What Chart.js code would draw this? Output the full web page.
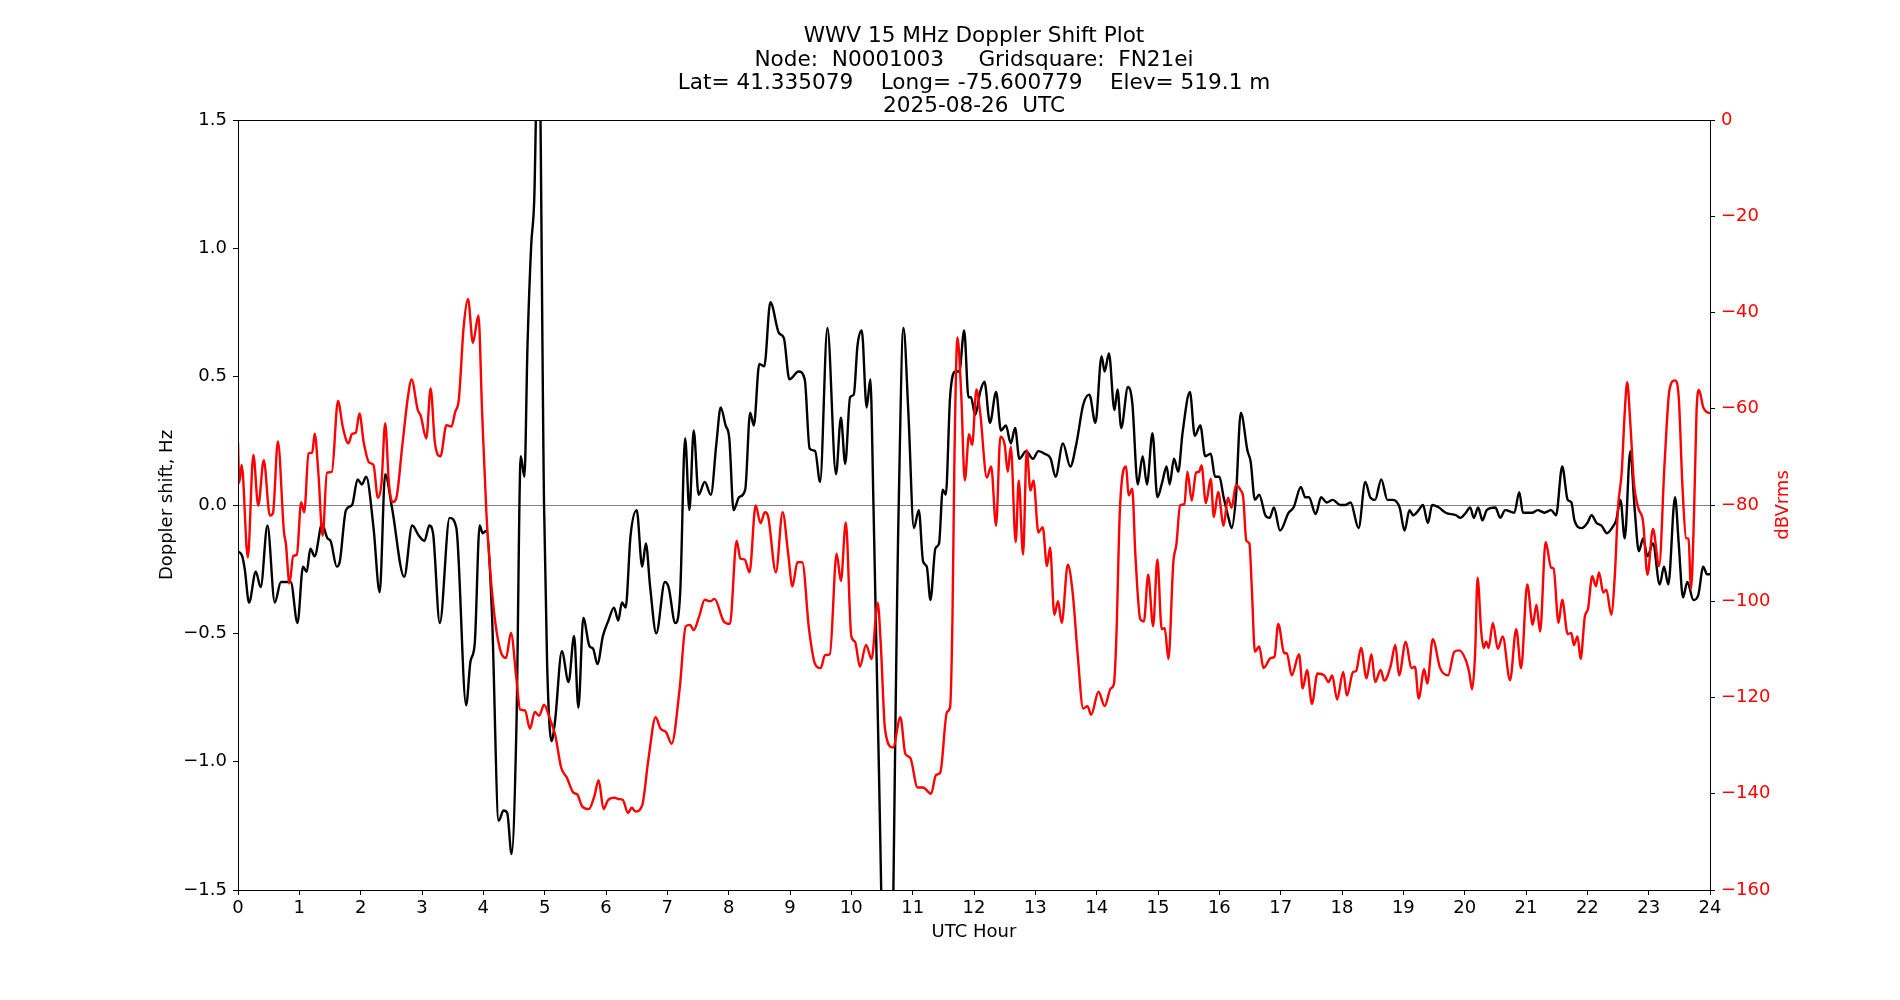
<!DOCTYPE html>
<html>
<head>
<meta charset="utf-8">
<script src="https://cdn.jsdelivr.net/npm/chart.js@4/dist/chart.umd.min.js"></script>
<style>
html,body{margin:0;padding:0;background:#ffffff;overflow:hidden}
canvas{display:block}
</style>
</head>
<body>
<canvas id="c" width="1900" height="1000"></canvas>
<script>
// ---------------- data ----------------
const titleLines = [
  "WWV 15 MHz Doppler Shift Plot",
  "Node:  N0001003     Gridsquare:  FN21ei",
  "Lat= 41.335079    Long= -75.600779    Elev= 519.1 m",
  "2025-08-26  UTC"
];
const xLabel = "UTC Hour";
const yLeftLabel = "Doppler shift, Hz";
const yRightLabel = "dBVrms";

const hourRange = [0, 24];
const dopplerRange = [-1.5, 1.5];
const powerRange = [-160, 0];

const dopplerHours = [
0.00,0.07,0.11,0.18,0.29,0.37,0.48,0.60,0.70,0.86,0.97,1.06,1.12,1.18,1.25,1.37,1.46,1.51,1.61,1.66,
1.76,1.86,1.95,2.02,2.09,2.21,2.31,2.40,2.51,2.71,2.84,2.95,3.04,3.12,3.18,3.29,3.45,3.56,3.72,3.79,
3.86,3.94,3.99,4.05,4.14,4.25,4.33,4.39,4.46,4.54,4.61,4.67,4.72,4.78,4.83,4.90,4.99,5.04,5.11,5.17,
5.28,5.39,5.48,5.55,5.63,5.73,5.79,5.86,5.95,6.04,6.13,6.20,6.26,6.32,6.40,6.50,6.59,6.65,6.72,6.82,
6.96,7.02,7.13,7.21,7.29,7.36,7.43,7.51,7.61,7.71,7.80,7.87,7.95,8.01,8.08,8.17,8.27,8.35,8.41,8.50,
8.58,8.68,8.82,8.90,8.99,9.14,9.24,9.32,9.41,9.49,9.61,9.75,9.83,9.90,9.98,10.04,10.10,10.17,10.25,10.31,
10.36,10.44,10.60,10.77,10.85,10.93,11.02,11.10,11.17,11.23,11.29,11.37,11.43,11.49,11.54,11.61,11.70,11.76,11.84,11.91,
11.95,12.02,12.10,12.17,12.26,12.36,12.44,12.52,12.60,12.67,12.74,12.85,12.96,13.05,13.15,13.25,13.33,13.45,13.57,13.67,
13.78,13.88,13.98,14.08,14.13,14.20,14.29,14.34,14.40,14.51,14.58,14.67,14.75,14.82,14.91,14.99,15.07,15.14,15.19,15.26,
15.33,15.40,15.52,15.60,15.69,15.77,15.86,15.93,16.00,16.07,16.15,16.20,16.27,16.35,16.46,16.51,16.58,16.65,16.75,16.82,
16.89,16.99,17.13,17.21,17.33,17.40,17.46,17.57,17.66,17.75,17.85,17.97,18.05,18.14,18.27,18.38,18.46,18.54,18.64,18.74,
18.83,18.94,19.02,19.10,19.16,19.25,19.32,19.40,19.47,19.58,19.69,19.86,19.93,20.02,20.09,20.15,20.22,20.29,20.36,20.50,
20.58,20.66,20.81,20.89,20.95,21.10,21.19,21.30,21.41,21.49,21.59,21.68,21.74,21.79,21.91,22.00,22.07,22.15,22.23,22.32,
22.40,22.47,22.54,22.61,22.70,22.77,22.84,22.91,22.98,23.07,23.18,23.25,23.32,23.43,23.49,23.56,23.63,23.73,23.81,23.89,
23.95,24.00
];
const dopplerHz = [
-0.18,-0.20,-0.25,-0.38,-0.26,-0.32,-0.08,-0.38,-0.30,-0.30,-0.46,-0.24,-0.26,-0.17,-0.20,-0.075,-0.13,-0.14,-0.24,-0.22,
-0.02,0.00,0.10,0.08,0.11,-0.09,-0.34,0.12,-0.01,-0.28,-0.08,-0.12,-0.14,-0.08,-0.11,-0.46,-0.05,-0.09,-0.78,-0.61,
-0.54,-0.08,-0.11,-0.10,-0.42,-1.23,-1.19,-1.20,-1.36,-0.86,0.19,0.11,0.62,1.01,1.19,1.95,0.00,-0.62,-0.92,-0.84,
-0.57,-0.69,-0.51,-0.79,-0.44,-0.55,-0.56,-0.62,-0.51,-0.45,-0.40,-0.45,-0.38,-0.40,-0.12,-0.02,-0.24,-0.15,-0.32,-0.50,
-0.30,-0.32,-0.46,-0.34,0.26,-0.02,0.29,0.04,0.09,0.04,0.24,0.38,0.31,0.26,-0.02,0.03,0.06,0.36,0.31,0.55,
0.54,0.79,0.67,0.65,0.49,0.52,0.49,0.22,0.21,0.09,0.69,0.12,0.34,0.16,0.42,0.43,0.62,0.68,0.38,0.49,
0.01,-0.92,-2.50,-0.03,0.69,0.36,-0.09,-0.02,-0.22,-0.24,-0.37,-0.17,-0.15,0.06,0.04,0.42,0.52,0.52,0.68,0.42,
0.42,0.35,0.44,0.48,0.32,0.44,0.29,0.31,0.24,0.30,0.18,0.21,0.18,0.21,0.20,0.18,0.11,0.24,0.15,0.24,
0.39,0.43,0.32,0.58,0.52,0.59,0.37,0.45,0.30,0.46,0.40,0.08,0.19,0.08,0.28,0.03,0.09,0.15,0.08,0.18,
0.13,0.28,0.44,0.27,0.31,0.19,0.20,0.11,0.11,0.03,-0.05,-0.09,0.03,0.36,0.21,0.17,0.02,0.04,-0.04,-0.05,
-0.01,-0.10,-0.03,-0.01,0.07,0.03,0.03,-0.035,0.03,0.01,0.02,0.00,0.00,0.01,-0.09,0.09,0.03,0.02,0.10,0.02,
0.02,-0.01,-0.10,-0.02,-0.04,-0.02,0.00,-0.07,0.00,-0.01,-0.03,-0.04,-0.05,-0.03,-0.01,-0.05,-0.01,-0.06,-0.02,-0.01,
-0.05,-0.02,-0.03,0.05,-0.03,-0.03,-0.02,-0.03,-0.02,-0.04,0.15,0.02,0.01,-0.06,-0.09,-0.07,-0.04,-0.07,-0.08,-0.11,
-0.09,-0.06,0.02,-0.13,0.21,-0.01,-0.18,-0.13,-0.20,-0.15,-0.31,-0.24,-0.31,0.03,-0.15,-0.36,-0.30,-0.37,-0.35,-0.24,
-0.27,-0.27
];

const powerHours = [
0.00,0.02,0.06,0.16,0.25,0.33,0.42,0.52,0.57,0.65,0.75,0.78,0.84,0.90,0.96,1.03,1.08,1.15,1.21,1.25,
1.31,1.38,1.45,1.53,1.63,1.71,1.80,1.86,1.92,1.98,2.05,2.14,2.21,2.28,2.34,2.40,2.46,2.52,2.58,2.68,
2.77,2.83,2.93,2.98,3.07,3.14,3.21,3.30,3.40,3.48,3.54,3.60,3.68,3.75,3.83,3.92,3.98,4.05,4.16,4.27,
4.37,4.45,4.54,4.60,4.68,4.76,4.84,4.91,4.99,5.09,5.17,5.27,5.36,5.47,5.53,5.61,5.72,5.81,5.88,5.96,
6.03,6.14,6.20,6.27,6.36,6.42,6.48,6.59,6.69,6.81,6.89,6.98,7.07,7.20,7.30,7.37,7.43,7.52,7.61,7.70,
7.77,7.92,8.02,8.13,8.19,8.26,8.34,8.44,8.52,8.59,8.64,8.77,8.88,8.97,9.04,9.12,9.20,9.31,9.41,9.50,
9.57,9.65,9.76,9.83,9.91,10.00,10.06,10.14,10.24,10.33,10.43,10.48,10.55,10.68,10.80,10.88,10.96,11.08,11.17,11.30,
11.38,11.45,11.56,11.61,11.65,11.68,11.73,11.79,11.85,11.92,11.97,12.04,12.10,12.21,12.28,12.36,12.43,12.50,12.55,12.60,
12.68,12.73,12.80,12.86,12.92,12.97,13.05,13.12,13.19,13.24,13.31,13.37,13.43,13.53,13.61,13.69,13.78,13.85,13.91,14.03,
14.13,14.23,14.28,14.32,14.38,14.48,14.52,14.58,14.63,14.71,14.77,14.84,14.92,14.99,15.06,15.11,15.17,15.25,15.30,15.36,
15.43,15.48,15.55,15.62,15.67,15.71,15.78,15.86,15.91,15.98,16.07,16.14,16.20,16.27,16.35,16.39,16.44,16.49,16.53,16.58,
16.65,16.72,16.84,16.90,16.96,17.06,17.10,17.18,17.30,17.36,17.43,17.51,17.60,17.71,17.78,17.84,17.92,18.02,18.08,18.18,
18.23,18.31,18.40,18.48,18.54,18.63,18.69,18.79,18.87,18.93,19.04,19.13,19.19,19.25,19.34,19.39,19.48,19.60,19.73,19.83,
19.91,20.02,20.08,20.12,20.17,20.21,20.27,20.31,20.35,20.39,20.46,20.54,20.62,20.74,20.84,20.92,21.02,21.11,21.17,21.23,
21.32,21.41,21.45,21.53,21.59,21.68,21.74,21.78,21.84,21.89,21.96,22.01,22.08,22.14,22.19,22.26,22.31,22.39,22.45,22.50,
22.56,22.61,22.65,22.70,22.76,22.83,22.91,22.98,23.07,23.17,23.26,23.34,23.43,23.49,23.55,23.61,23.65,23.69,23.74,23.78,
23.82,23.89,23.95,24.00
];
const powerDb = [
-67.0,-75.4,-71.7,-90.9,-69.6,-80.1,-70.7,-82.2,-81.7,-66.8,-85.7,-88.0,-96.3,-90.6,-90.3,-79.4,-81.5,-69.3,-69.1,-65.2,
-73.3,-86.4,-73.3,-73.1,-58.4,-63.9,-67.2,-65.2,-65.0,-61.0,-67.0,-71.2,-71.7,-78.5,-75.4,-63.0,-75.4,-79.4,-78.6,-67.5,
-57.6,-53.9,-60.2,-61.5,-66.2,-55.8,-67.0,-69.9,-63.4,-63.7,-60.7,-58.1,-42.9,-37.2,-46.3,-40.6,-60.7,-81.7,-100.5,-109.9,
-111.8,-106.6,-116.2,-122.5,-122.7,-126.5,-123.0,-123.8,-121.5,-124.6,-127.7,-134.6,-136.6,-139.8,-140.1,-142.6,-143.2,-140.5,-137.2,-143.2,
-141.4,-140.8,-141.1,-141.2,-144.0,-142.9,-143.7,-142.4,-133.0,-124.1,-126.5,-127.2,-129.6,-118.3,-105.2,-104.9,-106.0,-103.1,-99.7,-100.0,
-99.5,-104.2,-104.7,-87.4,-91.1,-91.3,-94.0,-80.1,-83.8,-81.5,-82.2,-94.0,-81.5,-90.1,-96.9,-91.9,-91.9,-105.8,-113.1,-113.9,
-111.2,-111.0,-90.1,-95.8,-83.6,-107.3,-108.4,-113.6,-109.1,-112.0,-100.3,-108.9,-126.7,-130.4,-124.1,-131.7,-132.5,-138.7,-138.7,-140.0,
-136.1,-135.6,-123.0,-122.0,-102.6,-71.2,-45.2,-56.5,-74.9,-65.3,-67.5,-56.0,-60.7,-74.3,-72.0,-84.3,-65.8,-67.5,-73.1,-67.9,
-87.7,-74.9,-90.3,-68.6,-77.0,-74.9,-85.7,-84.6,-92.7,-88.8,-102.8,-100.0,-104.5,-92.4,-98.4,-111.0,-122.3,-121.8,-123.6,-118.8,
-121.8,-118.1,-117.3,-107.9,-80.6,-72.0,-78.0,-76.6,-90.1,-103.7,-104.2,-94.5,-105.2,-91.3,-105.8,-105.6,-112.0,-91.9,-88.2,-80.1,
-79.8,-73.1,-79.1,-73.3,-73.1,-71.8,-79.6,-74.6,-82.5,-77.3,-84.3,-78.5,-80.6,-75.9,-77.0,-78.5,-87.4,-88.0,-97.4,-110.5,
-109.4,-113.9,-111.8,-111.5,-104.7,-110.8,-110.8,-115.4,-111.0,-118.1,-114.3,-121.3,-115.0,-115.4,-116.8,-115.4,-120.4,-114.7,-119.6,-114.7,
-114.5,-109.7,-116.0,-111.0,-116.8,-114.3,-116.5,-113.6,-109.1,-115.4,-108.4,-113.9,-113.6,-120.2,-114.1,-117.1,-107.9,-113.9,-115.4,-110.5,
-110.2,-112.3,-115.2,-118.3,-111.0,-95.1,-106.3,-109.7,-108.4,-109.7,-104.5,-109.9,-107.3,-116.4,-105.8,-113.9,-96.5,-104.9,-100.7,-106.3,
-87.7,-93.0,-93.2,-104.5,-99.7,-106.8,-106.6,-109.1,-107.3,-112.0,-103.1,-101.6,-94.8,-96.9,-94.0,-98.2,-97.6,-102.8,-94.2,-80.6,
-73.3,-60.7,-54.5,-62.8,-75.4,-80.6,-83.6,-94.5,-85.0,-92.7,-71.2,-56.0,-54.1,-57.6,-75.9,-86.9,-87.0,-97.4,-81.7,-60.7,
-56.1,-59.7,-60.7,-60.9
];

// ---------------- chart ----------------
const FONT = '"DejaVu Sans", sans-serif';
const TICK_PX = 18;
const TITLE_PX = 21.6;

const toXY = (xs, ys) => xs.map((x, i) => ({x: x, y: ys[i]}));
const minusFmt = (v, digits) => {
  const s = Math.abs(v).toFixed(digits);
  return (v < 0 ? '\u2212' : '') + s;
};

const textPlugin = {
  id: 'textPlugin',
  afterDatasetsDraw(chart) {
    const {ctx, chartArea} = chart;
    ctx.save();
    ctx.strokeStyle = '#000000';
    ctx.lineWidth = 1;
    ctx.strokeRect(Math.round(chartArea.left) + 0.5, Math.round(chartArea.top) + 0.5,
                   Math.round(chartArea.right - chartArea.left), Math.round(chartArea.bottom - chartArea.top));
    ctx.restore();
  },
  afterDraw(chart) {
    const {ctx, chartArea} = chart;
    ctx.save();
    const cx = (chartArea.left + chartArea.right) / 2;
    ctx.fillStyle = '#000000';
    ctx.font = TITLE_PX + 'px ' + FONT;
    ctx.textAlign = 'center';
    ctx.textBaseline = 'middle';
    const ys = [36.5, 60, 83.5, 106.5];
    titleLines.forEach((t, i) => ctx.fillText(t, cx, ys[i]));
    ctx.fillStyle = '#ff0000';
    ctx.font = TICK_PX + 'px ' + FONT;
    ctx.translate(1783.5, (chartArea.top + chartArea.bottom) / 2);
    ctx.rotate(-Math.PI / 2);
    ctx.fillText(yRightLabel, 0, 0);
    ctx.restore();
  }
};

new Chart(document.getElementById('c'), {
  type: 'line',
  data: {
    datasets: [
      {
        label: 'power',
        data: toXY(powerHours, powerDb),
        yAxisID: 'yR',
        borderColor: '#ff0000',
        borderWidth: 2.4,
        pointRadius: 0,
        fill: false,
        cubicInterpolationMode: 'monotone',
        clip: 0,
        order: 0
      },
      {
        label: 'doppler',
        data: toXY(dopplerHours, dopplerHz),
        yAxisID: 'y',
        borderColor: '#000000',
        borderWidth: 2.4,
        pointRadius: 0,
        fill: false,
        cubicInterpolationMode: 'monotone',
        clip: 0,
        order: 1
      }
    ]
  },
  options: {
    responsive: false,
    animation: false,
    events: [],
    layout: {padding: {top: 120, left: 0, right: 0, bottom: 0}},
    plugins: {
      legend: {display: false},
      title: {display: false},
      tooltip: {enabled: false}
    },
    scales: {
      x: {
        type: 'linear',
        position: 'bottom',
        min: hourRange[0],
        max: hourRange[1],
        afterFit: s => { s.height = 110; },
        ticks: {
          stepSize: 1,
          autoSkip: false,
          maxRotation: 0,
          color: '#000000',
          padding: 3,
          font: {family: FONT, size: TICK_PX},
          callback: v => String(v)
        },
        grid: {drawOnChartArea: false, tickLength: 5, tickColor: '#000000', tickWidth: 1},
        border: {display: true, color: '#000000', width: 1},
        title: {
          display: true,
          text: xLabel,
          color: '#000000',
          font: {family: FONT, size: TICK_PX},
          padding: {top: 0, bottom: 56.6}
        }
      },
      y: {
        type: 'linear',
        position: 'left',
        min: dopplerRange[0],
        max: dopplerRange[1],
        afterFit: s => { s.width = 238; },
        ticks: {
          stepSize: 0.5,
          color: '#000000',
          padding: 6,
          font: {family: FONT, size: TICK_PX},
          callback: v => minusFmt(v, 1)
        },
        grid: {
          drawOnChartArea: true,
          color: c => (c.tick && Math.abs(c.tick.value) < 1e-9) ? '#808080' : 'rgba(0,0,0,0)',
          lineWidth: 1,
          tickLength: 5,
          tickColor: '#000000',
          tickWidth: 1
        },
        border: {display: true, color: '#000000', width: 1},
        title: {
          display: true,
          text: yLeftLabel,
          color: '#000000',
          font: {family: FONT, size: TICK_PX},
          padding: {top: 156.2, bottom: 0}
        }
      },
      yR: {
        type: 'linear',
        position: 'right',
        min: powerRange[0],
        max: powerRange[1],
        afterFit: s => { s.width = 190; },
        ticks: {
          stepSize: 20,
          color: '#ff0000',
          padding: 6,
          font: {family: FONT, size: TICK_PX},
          callback: v => minusFmt(v, 0)
        },
        grid: {drawOnChartArea: false, tickLength: 5, tickColor: '#000000', tickWidth: 1},
        border: {display: true, color: '#000000', width: 1},
        title: {display: false}
      }
    }
  },
  plugins: [textPlugin]
});
</script>
</body>
</html>
